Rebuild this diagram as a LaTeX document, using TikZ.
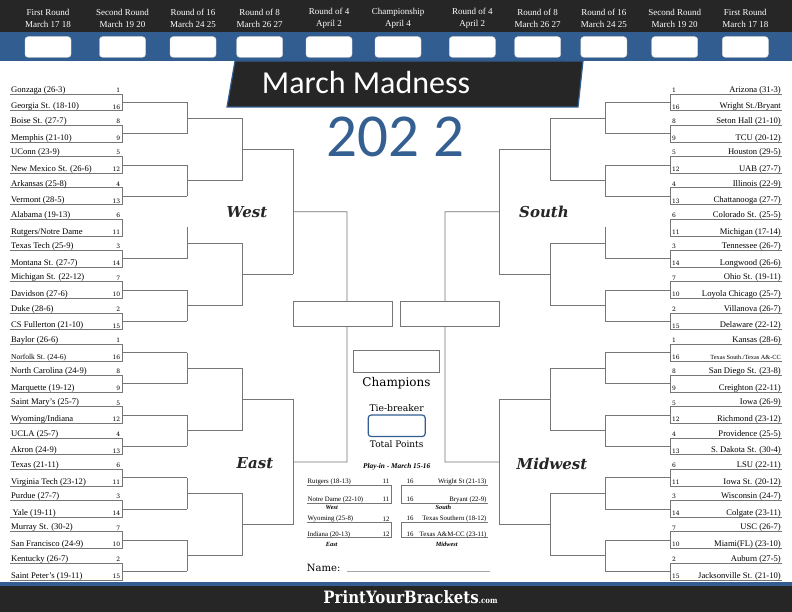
\documentclass[tikz,border=0pt]{standalone}
\usepackage{fontspec}
\setmainfont{Liberation Serif}
\newfontfamily\slab{DejaVu Serif}
\newfontfamily\titlefont{Carlito}
\definecolor{hdrblue}{RGB}{50,93,145}
\definecolor{hdrdark}{RGB}{38,38,38}
\definecolor{yearblue}{RGB}{52,95,145}
\definecolor{lin}{RGB}{118,118,118}
\tikzset{
  brk/.style={draw=lin, line width=0.7pt},
  team/.style={font=\fontsize{8.6}{10}\selectfont, inner sep=0pt},
  seed/.style={font=\slab\fontsize{6}{7}\selectfont, inner sep=0pt},
  hdrbox/.style={fill=white, draw=black!15, rounded corners=3pt},
  hdrlabel/.style={text=white, font=\fontsize{9}{11.3}\selectfont, align=center, inner sep=0pt},
  region/.style={font=\slab\bfseries\itshape\fontsize{15}{17}\selectfont, text=black!85, inner sep=0pt},
  ptext/.style={font=\fontsize{6.8}{8}\selectfont, inner sep=0pt},
  plabel/.style={font=\bfseries\itshape\fontsize{6.3}{7}\selectfont, inner sep=0pt},
  slabtext/.style={font=\slab, inner sep=0pt}
}
\begin{document}
\begin{tikzpicture}[x=1pt,y=-1pt]
\useasboundingbox (0,0) rectangle (792,612);
\fill[white] (0,0) rectangle (792,612);
% header
\fill[hdrdark] (0,0) rectangle (792,32);
\fill[hdrblue] (0,32) rectangle (792,61.5);
\foreach \cx/\la/\lb [count=\n] in {48/First Round/March 17 18, 122.5/Second Round/March 19 20, 193/Round of 16/March 24 25, 259.7/Round of 8/March 26 27, 329/Round of 4/April 2, 398/Championship/April 4, 472.3/Round of 4/April 2, 537.7/Round of 8/March 26 27, 603.8/Round of 16/March 24 25, 674.7/Second Round/March 19 20, 745.3/First Round/March 17 18}{
  \draw[hdrbox] (\cx-23,36.7) rectangle (\cx+23,57.3);
  \node[hdrlabel] (h\n) at (\cx,18.4) {\la\\\lb};
}
% banner
\draw[fill=hdrdark, draw=hdrblue, line width=1.2pt, line join=miter] (235,61) -- (583,61) -- (578,107) -- (227,107) -- cycle;
\node[text=white, font=\titlefont\fontsize{32}{32}\selectfont, anchor=base, inner sep=0pt] (title) at (366,93.3) {March Madness};
\node[text=yearblue, font=\titlefont\fontsize{61}{61}\selectfont, anchor=base, inner sep=0pt] (year) at (395.5,157) {202 2};
% footer
\fill[hdrblue] (0,582) rectangle (792,585.5);
\fill[hdrdark] (0,585.5) rectangle (792,612);
\node[text=white, inner sep=0pt, anchor=base] (brand) at (410.5,603.3) {\scalebox{0.88}[1]{\slab\bfseries\fontsize{17}{17}\selectfont PrintYourBrackets{\fontsize{8}{8}\selectfont.com}}};
% left teams
\foreach \i/\ta/\sa/\tb/\sb in {0/Gonzaga (26-3)/1/Georgia St. (18-10)/16, 1/Boise St. (27-7)/8/Memphis (21-10)/9, 2/UConn (23-9)/5/New Mexico St. (26-6)/12, 3/Arkansas (25-8)/4/Vermont (28-5)/13, 4/Alabama (19-13)/6/{Rutgers/Notre Dame}/11, 5/Texas Tech (25-9)/3/Montana St. (27-7)/14, 6/Michigan St. (22-12)/7/Davidson (27-6)/10, 7/Duke (28-6)/2/CS Fullerton (21-10)/15, 8/Baylor (26-6)/1/{\fontsize{7.5}{9}\selectfont Norfolk St. (24-6)}/16, 9/North Carolina (24-9)/8/Marquette (19-12)/9, 10/Saint Mary’s (25-7)/5/{Wyoming/Indiana}/12, 11/UCLA (25-7)/4/Akron (24-9)/13, 12/Texas (21-11)/6/Virginia Tech (23-12)/11, 13/Purdue (27-7)/3/\,Yale (19-11)/14, 14/Murray St. (30-2)/7/San Francisco (24-9)/10, 15/Kentucky (26-7)/2/Saint Peter’s (19-11)/15}{
  \pgfmathsetmacro\ua{94+31.27*\i}
  \pgfmathsetmacro\ub{\ua+16.8}
  \draw[brk] (10,\ua) -- (122,\ua) -- (122,\ub) -- (10,\ub);
  \node[team,anchor=base west] (LA\i) at (11,\ua-1.8) {\ta};
  \node[team,anchor=base west] (LB\i) at (11,\ub-1.8) {\tb};
  \node[seed,anchor=base east] (LSA\i) at (120.5,\ua-1.6) {\sa};
  \node[seed,anchor=base east] (LSB\i) at (120.5,\ub-1.6) {\sb};
}
% right teams
\foreach \i/\ta/\sa/\tb/\sb in {0/Arizona (31-3)/1/{Wright St./Bryant}/16, 1/Seton Hall (21-10)/8/TCU (20-12)/9, 2/Houston (29-5)/5/UAB (27-7)/12, 3/Illinois (22-9)/4/Chattanooga (27-7)/13, 4/Colorado St. (25-5)/6/Michigan (17-14)/11, 5/Tennessee (26-7)/3/Longwood (26-6)/14, 6/Ohio St. (19-11)/7/Loyola Chicago (25-7)/10, 7/Villanova (26-7)/2/Delaware (22-12)/15, 8/Kansas (28-6)/1/{\fontsize{6.3}{8}\selectfont Texas South./Texas A\&-CC}/16, 9/San Diego St. (23-8)/8/Creighton (22-11)/9, 10/Iowa (26-9)/5/Richmond (23-12)/12, 11/Providence (25-5)/4/S. Dakota St. (30-4)/13, 12/LSU (22-11)/6/Iowa St. (20-12)/11, 13/Wisconsin (24-7)/3/Colgate (23-11)/14, 14/USC (26-7)/7/Miami(FL) (23-10)/10, 15/Auburn (27-5)/2/Jacksonville St. (21-10)/15}{
  \pgfmathsetmacro\ua{94+31.27*\i}
  \pgfmathsetmacro\ub{\ua+16.8}
  \draw[brk] (782,\ua) -- (670,\ua) -- (670,\ub) -- (782,\ub);
  \node[team,anchor=base east] (RA\i) at (781,\ua-1.8) {\ta};
  \node[team,anchor=base east] (RB\i) at (781,\ub-1.8) {\tb};
  \node[seed,anchor=base west] (RSA\i) at (671.8,\ua-1.6) {\sa};
  \node[seed,anchor=base west] (RSB\i) at (671.8,\ub-1.6) {\sb};
}
% round 1 connectors
\foreach \i in {0,...,15}{
  \ifnum\i=4\relax\else
  \pgfmathsetmacro\m{102.4+31.27*\i}
  \coordinate (L1-\i) at (122,\m);
  \coordinate (R1-\i) at (670,\m);
  \draw[brk] (L1-\i) -- ++(65,0);
  \draw[brk] (R1-\i) -- ++(-65,0);
  \fi
}
% round 2
\foreach \j in {0,...,7}{
  \pgfmathsetmacro\ma{102.4+31.27*(2*\j)}
  \pgfmathsetmacro\mb{102.4+31.27*(2*\j+1)}
  \pgfmathsetmacro\mm{102.4+31.27*(2*\j+0.5)}
  \coordinate (L2-\j) at (187,\mm);
  \coordinate (R2-\j) at (605,\mm);
  \draw[brk] (187,\ma) -- (187,\mb);
  \draw[brk] (605,\ma) -- (605,\mb);
  \draw[brk] (L2-\j) -- (242,\mm);
  \draw[brk] (R2-\j) -- (550,\mm);
}
% round 3
\foreach \k in {0,...,3}{
  \pgfmathsetmacro\ma{102.4+31.27*(4*\k+0.5)}
  \pgfmathsetmacro\mb{102.4+31.27*(4*\k+2.5)}
  \pgfmathsetmacro\mm{102.4+31.27*(4*\k+1.5)}
  \coordinate (L3-\k) at (242,\mm);
  \coordinate (R3-\k) at (550,\mm);
  \draw[brk] (242,\ma) -- (242,\mb);
  \draw[brk] (550,\ma) -- (550,\mb);
  \draw[brk] (L3-\k) -- (293,\mm);
  \draw[brk] (R3-\k) -- (499,\mm);
}
% round 4
\foreach \r in {0,1}{
  \pgfmathsetmacro\ma{102.4+31.27*(8*\r+1.5)}
  \pgfmathsetmacro\mb{102.4+31.27*(8*\r+5.5)}
  \pgfmathsetmacro\mm{102.4+31.27*(8*\r+3.5)}
  \coordinate (L4-\r) at (293,\mm);
  \coordinate (R4-\r) at (499,\mm);
  \draw[brk] (293,\ma) -- (293,\mb);
  \draw[brk] (499,\ma) -- (499,\mb);
}
% semifinals and champion
\node[brk, draw, minimum width=99pt, minimum height=25pt, inner sep=0pt] (semiL) at (342.5,313.5) {};
\node[brk, draw, minimum width=99pt, minimum height=25pt, inner sep=0pt] (semiR) at (449.5,313.5) {};
\draw[brk] (L4-0) -- (347,211.8) -- (347,301);
\draw[brk] (L4-1) -- (347,462) -- (347,326);
\draw[brk] (R4-0) -- (445,211.8) -- (445,301);
\draw[brk] (R4-1) -- (445,462) -- (445,326);
\node[brk, draw, minimum width=86pt, minimum height=22pt, inner sep=0pt] (champbox) at (396,361) {};
\node[slabtext, font=\slab\fontsize{12}{14}\selectfont, anchor=base] (champ) at (396.5,386.5) {Champions};
\node[slabtext, font=\slab\fontsize{9.2}{11}\selectfont, anchor=base] (tie) at (396.7,411.5) {Tie-breaker};
\node[draw=hdrblue, line width=1.2pt, rounded corners=3pt, minimum width=57pt, minimum height=21.5pt, inner sep=0pt] (tiebox) at (396.7,425.8) {};
\node[slabtext, font=\slab\fontsize{9}{11}\selectfont, anchor=base] (total) at (396.7,447.3) {Total Points};
% region labels
\node[region] (west) at (247,212) {West};
\node[region] (south) at (544,212) {South};
\node[region] (east) at (255,463.5) {East};
\node[region] (midwest) at (552,463.5) {Midwest};
% play-in
\node[plabel, font=\bfseries\itshape\fontsize{7.3}{8}\selectfont] (playin) at (396.7,466.5) {Play-in - March 15-16};
\draw[brk] (306.7,485) -- (391.7,485) -- (391.7,503.3) -- (306.7,503.3);
\draw[brk] (306.7,522.7) -- (391.7,522.7) -- (391.7,537.7) -- (306.7,537.7);
\draw[brk] (488,485) -- (401.7,485) -- (401.7,503.3) -- (488,503.3);
\draw[brk] (488,522.7) -- (401.7,522.7) -- (401.7,537.7) -- (488,537.7);
\node[ptext, anchor=base west] (p1) at (307.5,483) {Rutgers (18-13)};
\node[ptext, anchor=base west] (p2) at (307.5,501.5) {Notre Dame (22-10)};
\node[ptext, anchor=base west] (p3) at (307.5,520.2) {Wyoming (25-8)};
\node[ptext, anchor=base west] (p4) at (307.5,536) {Indiana (20-13)};
\node[ptext, anchor=base] (ps1) at (386,483) {11};
\node[ptext, anchor=base] (ps2) at (386,501.5) {11};
\node[ptext, anchor=base] (ps3) at (386,521.5) {12};
\node[ptext, anchor=base] (ps4) at (386,536) {12};
\node[ptext, anchor=base east] (q1) at (486.7,483) {Wright St (21-13)};
\node[ptext, anchor=base east] (q2) at (486.7,501.5) {Bryant (22-9)};
\node[ptext, anchor=base east] (q3) at (486.7,520.2) {Texas Southern (18-12)};
\node[ptext, anchor=base east] (q4) at (486.7,536) {Texas A\&M-CC (23-11)};
\node[ptext, anchor=base] (qs1) at (410,483) {16};
\node[ptext, anchor=base] (qs2) at (410,501.5) {16};
\node[ptext, anchor=base] (qs3) at (410,520.2) {16};
\node[ptext, anchor=base] (qs4) at (410,536) {16};
\node[plabel] (pw) at (331.7,507.7) {West};
\node[plabel] (pe) at (331.7,544.3) {East};
\node[plabel] (ps) at (443.3,507.7) {South};
\node[plabel] (pm) at (446.7,544.3) {Midwest};
% name
\node[slabtext, font=\slab\fontsize{10}{12}\selectfont, anchor=base west] (name) at (306.7,571.7) {Name:};
\coordinate (nameend) at (490,571);
\draw[draw=black!35, line width=0.6pt] (347,571) -- (nameend);
\end{tikzpicture}
\end{document}
